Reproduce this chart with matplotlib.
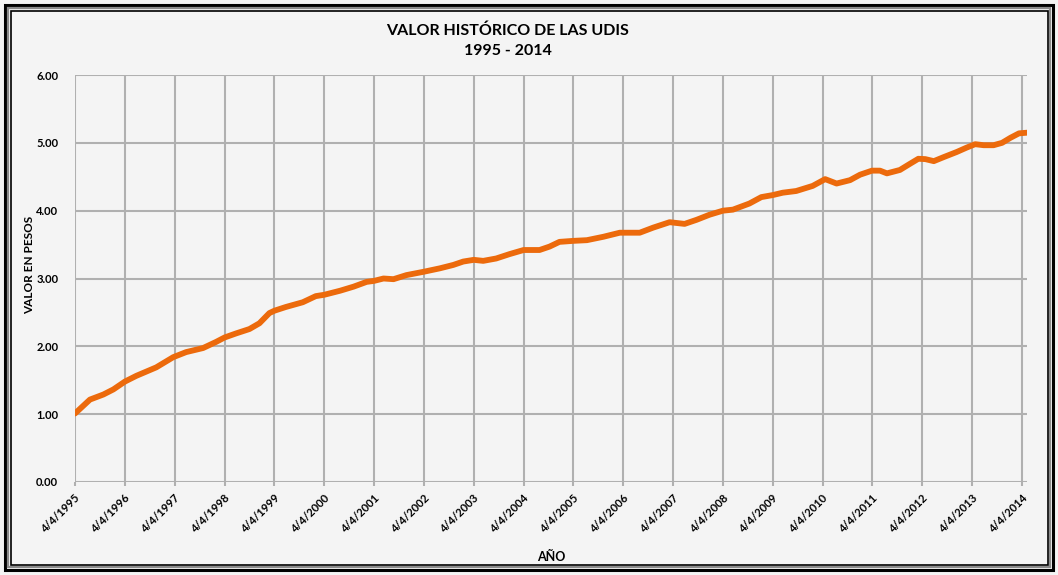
import matplotlib
matplotlib.use("Agg")
import matplotlib.pyplot as plt
from matplotlib.patches import Rectangle

plt.rcParams['font.family'] = ['Lato', 'DejaVu Sans']

# decimal years, 1995.0 = 4/4/1995
years = [1995.00, 1995.30, 1995.57, 1995.77, 1996.00, 1996.23, 1996.63, 1996.97,
         1997.23, 1997.57, 1997.83, 1998.00, 1998.23, 1998.50, 1998.70, 1998.90,
         1999.00, 1999.23, 1999.57, 1999.83, 2000.00, 2000.32, 2000.59, 2000.85,
         2001.00, 2001.19, 2001.39, 2001.65, 2002.00, 2002.32, 2002.59, 2002.79,
         2003.00, 2003.19, 2003.45, 2003.72, 2004.00, 2004.32, 2004.52, 2004.72,
         2005.00, 2005.27, 2005.60, 2005.93, 2006.33, 2006.60, 2006.93, 2007.23,
         2007.47, 2007.73, 2008.00, 2008.20, 2008.53, 2008.77, 2009.00, 2009.20,
         2009.47, 2009.80, 2010.05, 2010.28, 2010.55, 2010.75, 2010.99, 2011.15,
         2011.29, 2011.55, 2011.75, 2011.92, 2012.06, 2012.23, 2012.43, 2012.69,
         2012.89, 2013.06, 2013.23, 2013.43, 2013.60, 2013.77, 2013.94, 2014.11]
udis = [1.01, 1.215, 1.29, 1.365, 1.48, 1.565, 1.69, 1.84,
        1.915, 1.975, 2.065, 2.13, 2.19, 2.255, 2.34, 2.49,
        2.525, 2.58, 2.65, 2.74, 2.76, 2.82, 2.88, 2.95,
        2.965, 3.0, 2.99, 3.05, 3.10, 3.15, 3.20, 3.25,
        3.275, 3.26, 3.295, 3.36, 3.42, 3.42, 3.47, 3.54,
        3.555, 3.565, 3.615, 3.675, 3.675, 3.75, 3.83, 3.805,
        3.865, 3.94, 4.0, 4.015, 4.105, 4.2, 4.23, 4.265,
        4.29, 4.365, 4.465, 4.40, 4.45, 4.53, 4.59, 4.59,
        4.55, 4.60, 4.69, 4.765, 4.76, 4.73, 4.79, 4.865,
        4.93, 4.98, 4.965, 4.965, 5.0, 5.075, 5.14, 5.15]

tick_years = list(range(1995, 2015))
tick_labels = ["4/4/%d" % y for y in tick_years]
y_ticks = [0, 1, 2, 3, 4, 5, 6]

bg = '#f4f4f4'
fig = plt.figure(figsize=(10.58, 5.75), dpi=100, facecolor=bg)
ax = fig.add_axes([75/1058, 1 - 482/575, 952/1058, 407/575])
ax.set_facecolor(bg)

ax.plot(years, udis, color='#ec6a0c', lw=4.2, solid_capstyle='round',
        solid_joinstyle='round', zorder=3)

ax.set_xlim(1995, 2014.1)
ax.set_ylim(0, 6)
ax.set_xticks(tick_years)
ax.set_xticklabels(tick_labels, rotation=45, ha='right', rotation_mode='anchor',
                   fontsize=8, fontweight='bold')
ax.set_yticks(y_ticks)
ax.set_yticklabels(["%.2f" % v for v in y_ticks], fontsize=8, fontweight='bold')
ax.tick_params(axis='y', length=0, pad=12)
ax.tick_params(axis='x', length=3, color='#b0b0b0', width=1.5, pad=4)
ax.grid(True, color='#b0b0b0', lw=1.5)
ax.set_axisbelow(True)
for s in ax.spines.values():
    s.set_visible(False)

fig.text(508/1058, 1 - 31/575, "VALOR HISTÓRICO DE LAS UDIS", ha='center', va='center',
         fontsize=11.5, fontweight='bold')
fig.text(508/1058, 1 - 51/575, "1995 - 2014", ha='center', va='center',
         fontsize=11.5, fontweight='bold')
fig.text(30/1058, 1 - 265/575, "VALOR EN PESOS", rotation=90, ha='center', va='center',
         fontsize=8.5, fontweight='bold')
fig.text(551/1058, 1 - 557/575, "AÑO", ha='center', va='center',
         fontsize=9, fontweight='bold')

# double frame around the picture
W, H = 1058.0, 575.0
for inset, lw, col in [(5, 2.2, 'black'), (8, 1.6, '#8a8a8a'), (10.5, 1.2, 'black')]:
    fig.patches.append(Rectangle((inset / W, inset / H), 1 - 2 * inset / W, 1 - 2 * inset / H,
                                 transform=fig.transFigure, fill=False, lw=lw, ec=col))

fig.savefig('out.png', dpi=100, facecolor=bg)
